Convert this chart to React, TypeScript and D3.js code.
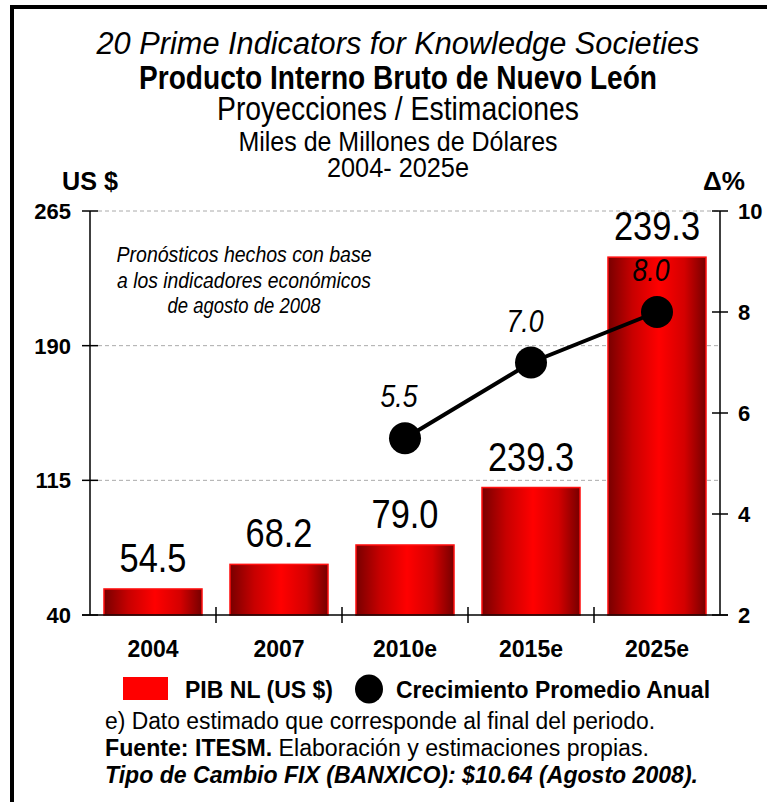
import React from "react";
import * as d3 from "d3";

const categories = ["2004", "2007", "2010e", "2015e", "2025e"];
const gdpValues = [54.5, 68.2, 79.0, 111.0, 239.3];
const gdpLabels = ["54.5", "68.2", "79.0", "239.3", "239.3"];
const growthCategories = ["2010e", "2015e", "2025e"];
const growthValues = [5.5, 7.0, 8.0];
const growthLabels = ["5.5", "7.0", "8.0"];
const leftTicks = [40, 115, 190, 265];
const rightTicks = [2, 4, 6, 8, 10];
const titleLines = [
  "20 Prime Indicators for Knowledge Societies",
  "Producto Interno Bruto de Nuevo León",
  "Proyecciones / Estimaciones",
  "Miles de Millones de Dólares",
  "2004- 2025e",
];
const annotationLines = [
  "Pronósticos hechos con base",
  "a los indicadores económicos",
  "de agosto de 2008",
];
const legendLabels = ["PIB NL (US $)", "Crecimiento Promedio Anual"];

const SANS = "'Liberation Sans', Arial, sans-serif";

export default function App() {
  const W = 767, H = 802;
  const left = 90, right = 720, top = 211, bottom = 615;
  const yL = d3.scaleLinear().domain([40, 265]).range([bottom, top]);
  const yR = d3.scaleLinear().domain([2, 10]).range([bottom, top]);
  const x = d3.scaleBand().domain(categories).range([left, right]).paddingInner(0.222).paddingOuter(0.111);
  const step = x.step();
  const cx = (c: string) => (x(c) as number) + x.bandwidth() / 2;
  const line = d3.line<number>().x((_, i) => cx(growthCategories[i])).y((v) => yR(v));
  const boundaries = d3.range(categories.length + 1).map((i) => left + i * step);
  const centerX = 398;
  const LA = "spacingAndGlyphs";

  return (
    <div style={{ position: "absolute", left: 0, top: 0 }}>
      <svg width={W} height={H} style={{ display: "block", background: "#fff" }} fontFamily={SANS}>
        <defs>
          <linearGradient id="barGrad" x1="0" x2="1" y1="0" y2="0">
            <stop offset="0" stopColor="#780000" />
            <stop offset="0.25" stopColor="#c80000" />
            <stop offset="0.52" stopColor="#ff0000" />
            <stop offset="0.78" stopColor="#d40000" />
            <stop offset="1" stopColor="#760000" />
          </linearGradient>
        </defs>
        {/* frame */}
        <rect x={10} y={5} width={4} height={H} fill="#000" />
        <rect x={10} y={5} width={W} height={4} fill="#000" />

        {/* titles */}
        <text x={centerX} y={54} textAnchor="middle" fontStyle="italic" fontSize={31} textLength={603} lengthAdjust={LA}>{titleLines[0]}</text>
        <text x={centerX} y={89} textAnchor="middle" fontWeight="bold" fontSize={33} textLength={518} lengthAdjust={LA}>{titleLines[1]}</text>
        <text x={centerX} y={120} textAnchor="middle" fontSize={33} textLength={362} lengthAdjust={LA}>{titleLines[2]}</text>
        <text x={centerX} y={150.5} textAnchor="middle" fontSize={28} textLength={319} lengthAdjust={LA}>{titleLines[3]}</text>
        <text x={centerX} y={177} textAnchor="middle" fontSize={28} textLength={142} lengthAdjust={LA}>{titleLines[4]}</text>

        <text x={62} y={190} fontWeight="bold" fontSize={25} textLength={56} lengthAdjust={LA}>US $</text>
        <text x={703} y={190} fontWeight="bold" fontSize={25} textLength={42} lengthAdjust={LA}>Δ%</text>

        {/* gridlines */}
        {leftTicks.filter((t) => t !== 40).map((t) => (
          <line key={t} x1={left + 8} x2={right} y1={yL(t)} y2={yL(t)} stroke="#aaa" strokeDasharray="4 3" strokeWidth={1} />
        ))}

        {/* bars */}
        {categories.map((c, i) => (
          <rect key={c} x={x(c)} y={yL(gdpValues[i])} width={x.bandwidth()} height={bottom - yL(gdpValues[i])}
            fill="url(#barGrad)" stroke="#ff1010" strokeWidth={1.5} />
        ))}
        {categories.map((c, i) => (
          <text key={c} transform={`translate(${cx(c)},${yL(gdpValues[i]) - 17}) scale(0.86,1)`} textAnchor="middle" fontSize={40}>{gdpLabels[i]}</text>
        ))}

        {/* axes */}
        <line x1={left} x2={left} y1={top} y2={bottom} stroke="#000" strokeWidth={1.5} />
        <line x1={right} x2={right} y1={top} y2={bottom} stroke="#000" strokeWidth={1.5} />
        <line x1={left - 8} x2={right + 8} y1={bottom} y2={bottom} stroke="#000" strokeWidth={1.5} />
        {leftTicks.map((t) => (
          <g key={t}>
            <line x1={left - 8} x2={left + 8} y1={yL(t)} y2={yL(t)} stroke="#000" strokeWidth={1.5} />
            <text x={71} y={yL(t)} dy="0.36em" textAnchor="end" fontWeight="bold" fontSize={22}>{t}</text>
          </g>
        ))}
        {rightTicks.map((t) => (
          <g key={t}>
            <line x1={right - 8} x2={right + 8} y1={yR(t)} y2={yR(t)} stroke="#000" strokeWidth={1.5} />
            <text x={738} y={yR(t)} dy="0.36em" textAnchor="start" fontWeight="bold" fontSize={22}>{t}</text>
          </g>
        ))}
        {boundaries.slice(1, -1).map((b, i) => (
          <line key={i} x1={b} x2={b} y1={bottom - 8} y2={bottom + 8} stroke="#000" strokeWidth={1.5} />
        ))}
        {categories.map((c) => (
          <text key={c} x={cx(c)} y={657} textAnchor="middle" fontWeight="bold" fontSize={23}>{c}</text>
        ))}

        {/* growth line */}
        <path d={line(growthValues) || ""} fill="none" stroke="#000" strokeWidth={4} />
        {growthValues.map((v, i) => (
          <circle key={i} cx={cx(growthCategories[i])} cy={yR(v)} r={16} fill="#000" />
        ))}
        {growthValues.map((v, i) => (
          <text key={i} transform={`translate(${cx(growthCategories[i]) - 6},${yR(v) - 31}) scale(0.86,1)`} textAnchor="middle" fontStyle="italic" fontSize={31}>{growthLabels[i]}</text>
        ))}

        {/* annotation */}
        <text x={244} y={262} textAnchor="middle" fontStyle="italic" fontSize={22} textLength={255} lengthAdjust={LA}>{annotationLines[0]}</text>
        <text x={244} y={287.5} textAnchor="middle" fontStyle="italic" fontSize={22} textLength={254} lengthAdjust={LA}>{annotationLines[1]}</text>
        <text x={244} y={313} textAnchor="middle" fontStyle="italic" fontSize={22} textLength={153} lengthAdjust={LA}>{annotationLines[2]}</text>

        {/* legend */}
        <rect x={123} y={677} width={45} height={23} fill="#ff0000" />
        <text x={185} y={698} fontWeight="bold" fontSize={24} textLength={148} lengthAdjust={LA}>{legendLabels[0]}</text>
        <ellipse cx={369} cy={689} rx={14} ry={14.5} fill="#000" />
        <text x={396} y={698} fontWeight="bold" fontSize={24} textLength={314} lengthAdjust={LA}>{legendLabels[1]}</text>

        {/* footnotes */}
        <text x={105} y={729} fontSize={23.5} textLength={550} lengthAdjust={LA}>e) Dato estimado que corresponde al final del periodo.</text>
        <text x={105} y={756} fontSize={23.5} textLength={544} lengthAdjust={LA}>
          <tspan fontWeight="bold">Fuente: ITESM.</tspan> Elaboración y estimaciones propias.
        </text>
        <text x={105} y={783} fontSize={23.5} fontWeight="bold" fontStyle="italic" textLength={593} lengthAdjust={LA}>Tipo de Cambio FIX (BANXICO): $10.64 (Agosto 2008).</text>
      </svg>
    </div>
  );
}
